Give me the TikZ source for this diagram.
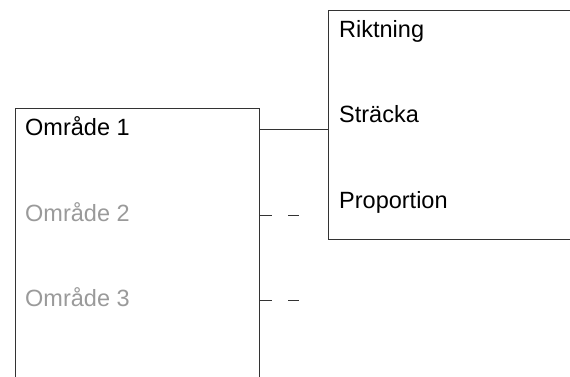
\documentclass[tikz,border=0pt]{standalone}
\usepackage{fontspec}
\setmainfont{Liberation Sans}
\usepackage{xcolor}
\usetikzlibrary{positioning}
\definecolor{framegray}{HTML}{333333}
\definecolor{fadedgray}{HTML}{9A9A9A}

\begin{document}
\begin{tikzpicture}[x=1pt, y=-1pt,
  frame/.style={draw=framegray, line width=1pt, minimum height=1pt, anchor=north west, inner sep=0pt},
  lbl/.style={font=\fontsize{23.5pt}{28pt}\selectfont, inner sep=0pt, text height=12pt, text depth=0pt, anchor=west},
  faded/.style={text=fadedgray},
  link/.style={draw=framegray, line width=1pt},
  stub/.style={link, dash pattern=on 12pt off 16pt}]
  \clip (0,0) rectangle (570,376);
  \node[frame, minimum width=244pt, minimum height=300pt] (lbox) at (15,108) {};
  \node[frame, minimum width=300pt, minimum height=229pt] (rbox) at (328,10) {};
  \node[lbl] (o1) at (25,129) {Område 1};
  \node[lbl, faded, below=86pt of o1.west, anchor=west] (o2) {Område 2};
  \node[lbl, faded, below=85pt of o2.west, anchor=west] (o3) {Område 3};
  \node[lbl] (riktning) at (339,31) {Riktning};
  \node[lbl, below=85.5pt of riktning.west, anchor=west] (stracka) {Sträcka};
  \node[lbl, below=85.5pt of stracka.west, anchor=west] (proportion) {Proportion};
  \draw[link] (lbox.east |- o1.west) -- (rbox.west |- o1.west);
  \path (lbox.east |- o2.west) ++(39,0) coordinate (e2);
  \path (lbox.east |- o3.west) ++(39,0) coordinate (e3);
  \draw[stub] (lbox.east |- o2.west) -- (e2);
  \draw[stub] (lbox.east |- o3.west) -- (e3);
\end{tikzpicture}
\end{document}
